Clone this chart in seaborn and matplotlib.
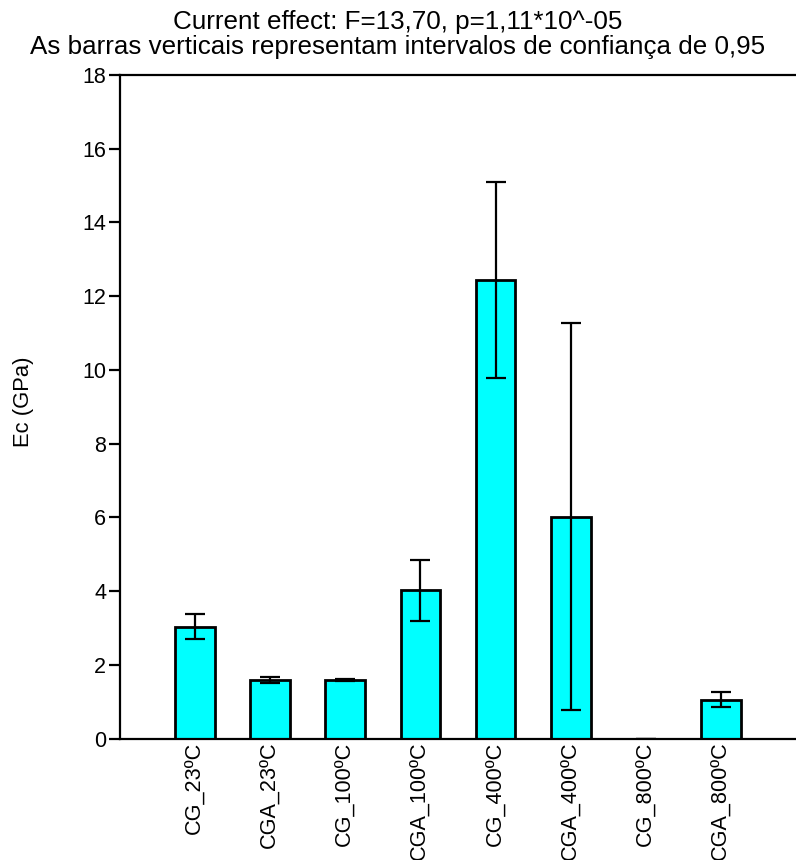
import matplotlib
matplotlib.use("Agg")
import matplotlib.pyplot as plt
import seaborn as sns
import pandas as pd

categories = ["CG_23ºC", "CGA_23ºC", "CG_100ºC", "CGA_100ºC",
              "CG_400ºC", "CGA_400ºC", "CG_800ºC", "CGA_800ºC"]
means = [3.04, 1.59, 1.59, 4.03, 12.44, 6.02, 0.0, 1.06]
ci_half = [0.33, 0.08, 0.02, 0.83, 2.67, 5.25, 0.0, 0.20]

title_lines = ["Current effect: F=13,70, p=1,11*10^-05",
               "As barras verticais representam intervalos de confiança de 0,95"]
ylabel = "Ec (GPa)"
yticks = [0, 2, 4, 6, 8, 10, 12, 14, 16, 18]

sns.set_style("white")
plt.rcParams['font.family'] = ['Liberation Sans', 'DejaVu Sans']
plt.rcParams['text.color'] = 'black'
plt.rcParams['xtick.color'] = 'black'
plt.rcParams['ytick.color'] = 'black'
plt.rcParams['axes.labelcolor'] = 'black'

df = pd.DataFrame({"cat": categories, "val": means})

fig = plt.figure(figsize=(7.96, 8.60), dpi=100)
ax = fig.add_axes([0.1508, 0.1410, 0.8492, 0.7718])

sns.barplot(data=df, x="cat", y="val", color="#00FFFF", saturation=1,
            edgecolor="black", linewidth=2, width=0.53, errorbar=None, ax=ax)
ax.errorbar(range(len(categories)), means, yerr=ci_half, fmt="none",
            ecolor="black", elinewidth=1.6, capsize=7, capthick=1.6, zorder=5)

ax.set_xlim(-1.0, 8.0)
ax.set_ylim(0, 18)
ax.set_yticks(yticks)
ax.set_yticklabels([str(t) for t in yticks], fontsize=15.5, color="black")
ax.set_xticks(range(len(categories)))
ax.set_xticklabels(categories, rotation=90, fontsize=15.6, color="black")
ax.tick_params(axis="y", direction="out", length=8, width=1.6, left=True, pad=2,
               colors="black")
ax.tick_params(axis="x", length=0, pad=2)
ax.set_xlabel("")
ax.set_ylabel("")
fig.text(24/796, 1 - 402/860, ylabel, rotation=90, ha="center", va="center",
         fontsize=15.8, color="black")

for s in ["left", "bottom", "top"]:
    ax.spines[s].set_visible(True)
    ax.spines[s].set_linewidth(1.6)
    ax.spines[s].set_color("black")
ax.spines["right"].set_visible(False)

fig.text(0.5, 1 - 29/860, title_lines[0], ha="center", va="baseline",
         fontsize=18.7, color="black")
fig.text(0.5, 1 - 54/860, title_lines[1], ha="center", va="baseline",
         fontsize=18.7, color="black")

fig.savefig("out.png", dpi=100)
